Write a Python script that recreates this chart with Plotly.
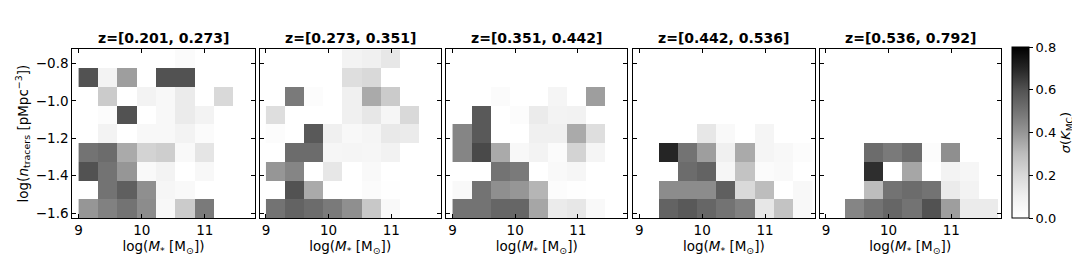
import plotly.graph_objects as go

# Bin edges
x_edges = [9.0, 9.306, 9.611, 9.917, 10.222, 10.528, 10.833, 11.139, 11.444, 11.75]
y_edges = [-1.625, -1.525, -1.425, -1.325, -1.225, -1.125, -1.025, -0.925, -0.825, -0.725]

titles = ["z=[0.201, 0.273]", "z=[0.273, 0.351]", "z=[0.351, 0.442]",
          "z=[0.442, 0.536]", "z=[0.536, 0.792]"]

N = None
# rows listed from top (y=-0.725..-0.825) to bottom (y=-1.525..-1.625)
panel1 = [
    [N, N, N, N, N, 0.03, N, N, N],
    [0.60, 0.08, 0.38, N, 0.60, 0.60, N, N, N],
    [N, 0.25, 0.0, 0.08, 0.05, 0.12, N, 0.20, N],
    [N, 0.02, 0.60, 0.0, 0.05, 0.12, 0.08, N, N],
    [N, 0.08, 0.0, 0.05, 0.05, 0.08, 0.03, N, N],
    [0.50, 0.52, 0.35, 0.22, 0.24, 0.04, 0.15, N, N],
    [0.60, 0.50, 0.40, 0.04, 0.08, 0.0, 0.05, N, N],
    [N, 0.50, 0.56, 0.42, 0.06, 0.04, N, N, N],
    [0.40, 0.46, 0.50, 0.43, 0.05, 0.25, 0.48, N, N],
]
panel2 = [
    [N, N, N, N, 0.08, 0.10, 0.14, N, N],
    [N, N, N, N, 0.18, 0.20, N, N, N],
    [N, 0.48, 0.02, N, 0.10, 0.35, 0.25, N, N],
    [0.18, N, N, N, 0.10, 0.14, 0.06, 0.20, N],
    [0.02, N, 0.58, 0.10, 0.05, 0.07, 0.13, 0.12, N],
    [N, 0.52, 0.52, 0.06, 0.07, 0.06, 0.09, N, N],
    [0.40, 0.45, 0.0, 0.14, N, 0.04, N, N, N],
    [N, 0.60, 0.35, N, N, 0.03, 0.01, N, N],
    [0.50, 0.55, 0.52, 0.48, 0.42, 0.26, 0.04, N, N],
]
panel3 = [
    [N, N, N, N, N, N, N, N, N],
    [N, N, N, N, N, N, N, N, N],
    [N, N, 0.03, N, N, 0.07, N, 0.38, N],
    [N, 0.58, 0.0, 0.02, 0.12, 0.08, 0.09, N, N],
    [0.45, 0.58, 0.0, 0.0, 0.10, 0.10, 0.35, 0.18, N],
    [0.45, 0.62, 0.35, 0.05, 0.08, 0.03, 0.22, 0.07, N],
    [N, N, 0.50, 0.48, 0.0, 0.04, 0.06, N, N],
    [0.04, 0.50, 0.42, 0.40, 0.32, 0.02, 0.01, N, N],
    [0.50, 0.50, 0.54, 0.54, 0.36, 0.12, 0.14, 0.04, N],
]
panel4 = [
    [N, N, N, N, N, N, N, N, N],
    [N, N, N, N, N, N, N, N, N],
    [N, N, N, N, N, N, N, N, N],
    [N, N, N, N, N, N, N, N, N],
    [N, N, N, 0.14, 0.04, N, 0.07, N, N],
    [N, 0.70, 0.50, 0.38, 0.10, 0.35, 0.07, 0.05, 0.02],
    [N, 0.0, 0.52, 0.55, 0.06, 0.28, 0.03, 0.04, N],
    [N, 0.43, 0.43, 0.43, 0.56, 0.20, 0.30, 0.0, 0.05],
    [N, 0.55, 0.58, 0.54, 0.50, 0.46, 0.14, 0.28, 0.05],
]
panel5 = [
    [N, N, N, N, N, N, N, N, N],
    [N, N, N, N, N, N, N, N, N],
    [N, N, N, N, N, N, N, N, N],
    [N, N, N, N, N, N, N, N, N],
    [N, N, N, N, N, N, N, N, N],
    [N, N, 0.52, 0.48, 0.52, 0.02, 0.42, N, N],
    [N, N, 0.68, 0.0, 0.36, 0.0, 0.08, 0.06, N],
    [N, N, 0.30, 0.50, 0.52, 0.50, 0.12, 0.08, N],
    [N, 0.45, 0.50, 0.54, 0.50, 0.60, 0.38, 0.12, 0.12],
]
panels = [panel1, panel2, panel3, panel4, panel5]

greys = ['#ffffff', '#f0f0f0', '#d9d9d9', '#bdbdbd', '#969696',
         '#737373', '#525252', '#252525', '#000000']
colorscale = [[i / (len(greys) - 1), c] for i, c in enumerate(greys)]

W, H = 1080, 266
x_px = [(64.3, 246.7), (251.7, 432.7), (438.3, 619.3), (625.0, 806.7), (811.7, 992.7)]
y_top, y_bot = 41.7, 212.3

fig = go.Figure()
font = dict(family="DejaVu Sans", size=13.5, color="black")
cbfont = dict(family="DejaVu Sans", size=13, color="black")

for i, (p, (l, r)) in enumerate(zip(panels, x_px)):
    k = "" if i == 0 else str(i + 1)
    fig.add_trace(go.Heatmap(
        x=x_edges, y=y_edges, z=p[::-1],
        coloraxis="coloraxis", xaxis="x" + k, yaxis="y" + k,
        hoverongaps=False,
    ))
    common = dict(
        showline=True, linecolor="black", linewidth=1, mirror="allticks",
        ticks="inside", ticklen=4, tickwidth=1, tickcolor="black",
        showgrid=False, zeroline=False, tickfont=font,
    )
    fig.layout["xaxis" + k] = dict(
        domain=[l / W, r / W], anchor="y" + k, range=[8.9, 11.79],
        tickvals=[9, 10, 11], ticktext=["9", "10", "11"],
        title=dict(text="log(<i>M</i><sub>*</sub> [M<sub>⊙</sub>])", font=font, standoff=4),
        **common,
    )
    fig.layout["yaxis" + k] = dict(
        domain=[1 - y_bot / H, 1 - y_top / H], anchor="x" + k,
        range=[-1.625, -0.725],
        tickvals=[-1.6, -1.4, -1.2, -1.0, -0.8],
        ticktext=["−1.6", "−1.4", "−1.2", "−1.0", "−0.8"],
        showticklabels=(i == 0),
        title=dict(text="log(<i>n</i><sub>tracers</sub> [pMpc<sup>−3</sup>])" if i == 0 else "",
                   font=font, standoff=4),
        **common,
    )
    fig.add_annotation(
        x=(l + r) / 2 / W, y=1 - 30.7 / H, xref="paper", yref="paper",
        text="<b>" + titles[i] + "</b>", showarrow=False,
        font=dict(family="DejaVu Sans", size=14, color="black"),
        xanchor="center", yanchor="middle",
    )

fig.update_layout(
    width=W, height=H,
    margin=dict(l=0, r=0, t=0, b=0),
    paper_bgcolor="white", plot_bgcolor="white",
    coloraxis=dict(
        colorscale=colorscale, cmin=0, cmax=0.8,
        colorbar=dict(
            x=1004 / W, xanchor="left", xpad=0, ypad=0,
            y=1 - 126 / H, yanchor="middle",
            len=(212.7 - 39.3) / H, lenmode="fraction",
            thickness=17, thicknessmode="pixels",
            outlinecolor="black", outlinewidth=1,
            ticks="outside", ticklen=4, tickcolor="black",
            tickvals=[0, 0.2, 0.4, 0.6, 0.8],
            ticktext=["0.0", "0.2", "0.4", "0.6", "0.8"],
            tickfont=cbfont,
            title=dict(text="<i>σ</i>(<i>K</i><sub>MC</sub>)", side="right", font=cbfont),
        ),
    ),
    showlegend=False,
)

fig.write_html("out.html")
